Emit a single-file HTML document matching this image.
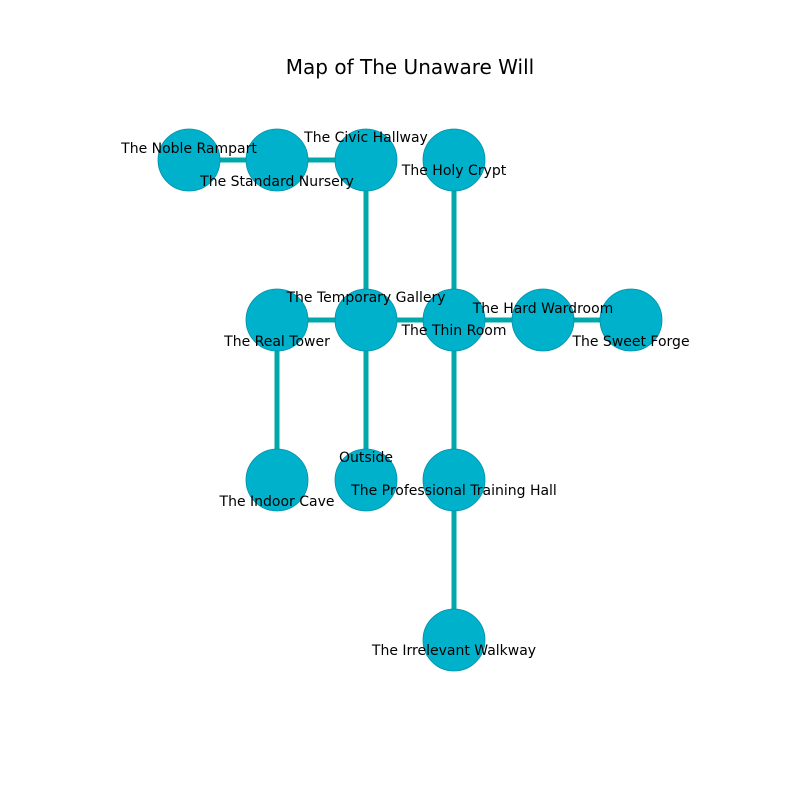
<!DOCTYPE html>
<html><head><meta charset="utf-8"><style>html,body{margin:0;padding:0;background:#fff}</style></head>
<body>
<svg width="800" height="800" viewBox="0 0 800 800" xmlns="http://www.w3.org/2000/svg" font-family="DejaVu Sans, Liberation Sans, sans-serif">
<rect width="800" height="800" fill="#fff"/>
<text x="410" y="74" font-size="20" text-anchor="middle" fill="#000">Map of The Unaware Will</text>
<g stroke="#00a8ab" stroke-width="5">
<line x1="189" y1="160" x2="277" y2="160"/>
<line x1="277" y1="160" x2="366" y2="160"/>
<line x1="366" y1="160" x2="366" y2="320"/>
<line x1="454" y1="160" x2="454" y2="320"/>
<line x1="277" y1="320" x2="366" y2="320"/>
<line x1="366" y1="320" x2="454" y2="320"/>
<line x1="454" y1="320" x2="543" y2="320"/>
<line x1="543" y1="320" x2="631" y2="320"/>
<line x1="277" y1="320" x2="277" y2="480"/>
<line x1="366" y1="320" x2="366" y2="480"/>
<line x1="454" y1="320" x2="454" y2="480"/>
<line x1="454" y1="480" x2="454" y2="640"/>
</g>
<g fill="#00b1cc" stroke="#0090a8" stroke-width="0.8">
<circle cx="189" cy="160" r="31"/>
<circle cx="277" cy="160" r="31"/>
<circle cx="366" cy="160" r="31"/>
<circle cx="454" cy="160" r="31"/>
<circle cx="277" cy="320" r="31"/>
<circle cx="366" cy="320" r="31"/>
<circle cx="454" cy="320" r="31"/>
<circle cx="543" cy="320" r="31"/>
<circle cx="631" cy="320" r="31"/>
<circle cx="277" cy="480" r="31"/>
<circle cx="366" cy="480" r="31"/>
<circle cx="454" cy="480" r="31"/>
<circle cx="454" cy="640" r="31"/>
</g>
<g font-size="14" text-anchor="middle" fill="#000">
<text x="189" y="153">The Noble Rampart</text>
<text x="277" y="186">The Standard Nursery</text>
<text x="366" y="142">The Civic Hallway</text>
<text x="454" y="175">The Holy Crypt</text>
<text x="366" y="302">The Temporary Gallery</text>
<text x="277" y="346">The Real Tower</text>
<text x="454" y="335">The Thin Room</text>
<text x="543" y="313">The Hard Wardroom</text>
<text x="631" y="346">The Sweet Forge</text>
<text x="366" y="462">Outside</text>
<text x="277" y="506">The Indoor Cave</text>
<text x="454" y="495">The Professional Training Hall</text>
<text x="454" y="655">The Irrelevant Walkway</text>
</g>
</svg>
</body></html>
